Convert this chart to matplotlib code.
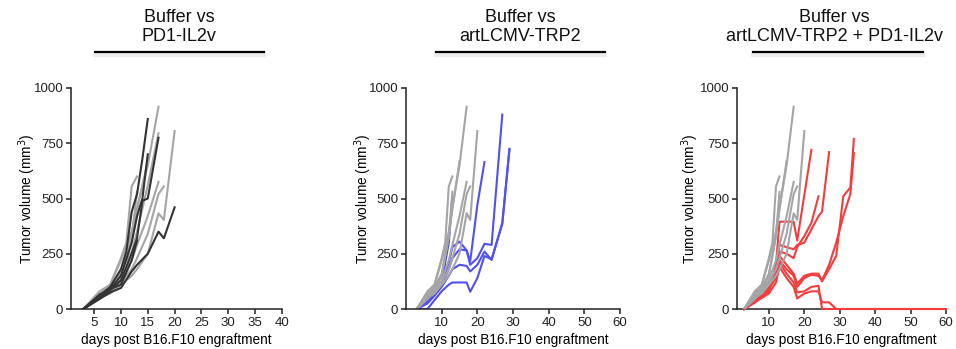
import matplotlib
matplotlib.use("Agg")
import matplotlib.pyplot as plt
from matplotlib.lines import Line2D

plt.rcParams['font.family'] = ['Liberation Sans', 'DejaVu Sans']

# Buffer (control) mice, shown in every panel: (days, volume mm3)
buffer_days = [
    [3, 6, 8, 10, 12, 13, 15, 17],
    [3, 6, 8, 10, 11, 12, 13, 15, 17, 18, 20],
    [3, 6, 8, 10, 12, 13, 15],
    [3, 6, 8, 10, 11, 12, 13],
    [3, 6, 8, 10, 12, 13],
    [3, 6, 8, 10, 12, 13, 15, 17],
    [3, 6, 8, 10, 12, 13, 15, 17, 18],
]
buffer_vals = [
    [0, 80, 110, 220, 350, 460, 650, 915],
    [0, 50, 70, 110, 130, 150, 180, 250, 433, 403, 805],
    [0, 60, 100, 160, 330, 450, 670],
    [0, 70, 110, 230, 300, 555, 600],
    [0, 60, 90, 150, 330, 530],
    [0, 55, 90, 130, 220, 290, 420, 575],
    [0, 45, 80, 120, 180, 230, 340, 520, 555],
]
# extra buffer mouse visible only in the first panel
buffer_p1_days = [3, 6, 8, 10, 12, 13, 15, 17]
buffer_p1_vals = [0, 60, 95, 170, 260, 350, 560, 795]

# PD1-IL2v
pd1_days = [
    [3, 6, 8, 10, 11, 12, 13, 14, 15],
    [3, 6, 8, 10, 12, 13, 14, 15],
    [3, 6, 8, 10, 12, 13, 14, 15, 17],
    [3, 6, 8, 10, 12, 13, 15, 17, 18, 20],
    [3, 6, 8, 10, 12, 13],
]
pd1_vals = [
    [0, 60, 100, 180, 260, 440, 520, 680, 860],
    [0, 55, 90, 150, 300, 420, 500, 700],
    [0, 50, 85, 130, 250, 320, 490, 500, 775],
    [0, 45, 75, 95, 170, 200, 250, 350, 320, 460],
    [0, 65, 90, 110, 220, 310],
]

# artLCMV-TRP2
lcmv_days = [
    [3, 6, 8, 10, 12, 13],
    [3, 6, 8, 10, 12, 13, 15, 17, 18, 20, 22],
    [3, 6, 8, 10, 12, 13, 15, 17, 18, 20, 22, 24, 27],
    [3, 6, 8, 10, 12, 13, 15, 17, 18, 20, 22, 24, 27, 29],
    [3, 6, 10, 12, 13, 15, 17, 18, 20, 22, 24, 27, 29],
]
lcmv_vals = [
    [0, 50, 80, 120, 300, 510],
    [0, 40, 75, 120, 210, 280, 305, 265, 215, 470, 665],
    [0, 30, 70, 110, 180, 230, 270, 265, 200, 230, 295, 290, 880],
    [0, 25, 60, 100, 150, 180, 200, 195, 170, 200, 260, 222, 390, 725],
    [0, 0, 80, 110, 120, 120, 120, 78, 140, 240, 225, 385, 720],
]

# artLCMV-TRP2 + PD1-IL2v
combo_days = [
    [3, 6, 8, 10, 12, 13, 15, 17, 18, 22],
    [3, 6, 8, 10, 12, 13, 15, 17, 18, 20, 22, 24, 25, 27],
    [3, 6, 8, 10, 12, 13, 15, 17, 18, 20, 22, 24],
    [3, 6, 8, 10, 12, 13, 15, 17, 18, 20, 22, 24, 25, 27, 29, 31, 33, 34],
    [3, 6, 8, 10, 12, 13, 15, 17, 18, 20, 22, 24, 25, 27, 29, 31, 33, 34],
    [3, 6, 8, 10, 12, 13, 15, 17, 18, 20, 22, 24, 25, 60],
    [3, 6, 8, 10, 12, 13, 15, 17, 18, 20, 22, 24, 25, 27, 29, 60],
]
combo_vals = [
    [0, 40, 60, 80, 200, 395, 395, 395, 310, 720],
    [0, 35, 60, 100, 180, 290, 280, 270, 290, 300, 360, 420, 440, 710],
    [0, 30, 55, 90, 160, 260, 250, 230, 280, 330, 390, 510],
    [0, 40, 70, 110, 170, 240, 200, 160, 115, 150, 160, 160, 125, 180, 240, 510, 550, 770],
    [0, 35, 60, 100, 160, 220, 180, 150, 100, 140, 155, 150, 130, 200, 300, 420, 520, 705],
    [0, 30, 60, 90, 140, 210, 160, 120, 75, 80, 100, 105, 0, 0],
    [0, 30, 50, 70, 120, 190, 140, 100, 48, 70, 80, 80, 30, 30, 0, 0],
]

titles = ["Buffer vs\nPD1-IL2v", "Buffer vs\nartLCMV-TRP2", "Buffer vs\nartLCMV-TRP2 + PD1-IL2v"]
xlims = [(0.7, 40), (0, 60), (1, 60)]
xticks = [[5, 10, 15, 20, 25, 30, 35, 40], [10, 20, 30, 40, 50, 60], [10, 20, 30, 40, 50, 60]]

GRAY = "#a5a5a8"
BLACK = "#333333"
BLUE = "#5050f5"
RED = "#f53c3c"
LW = 1.5

fig = plt.figure(figsize=(9.56, 3.49), dpi=100)
W, H = 956, 349
lefts = [71, 406, 737]
widths = [211, 214, 209]
ylabel_x = [27, 363, 690]
axes = []
for i in range(3):
    ax = fig.add_axes([lefts[i] / W, 1 - 309 / H, widths[i] / W, (309 - 88) / H])
    axes.append(ax)

# panel 1: buffer + PD1-IL2v (black on top)
ax = axes[0]
for d, v in zip(buffer_days, buffer_vals):
    ax.plot(d, v, color=GRAY, lw=LW)
ax.plot(buffer_p1_days, buffer_p1_vals, color=GRAY, lw=LW)
for d, v in zip(pd1_days, pd1_vals):
    ax.plot(d, v, color=BLACK, lw=LW)

# panel 2: artLCMV-TRP2 then buffer
ax = axes[1]
for d, v in zip(lcmv_days, lcmv_vals):
    ax.plot(d, v, color=BLUE, lw=LW)
for d, v in zip(buffer_days, buffer_vals):
    ax.plot(d, v, color=GRAY, lw=LW)

# panel 3: combo then buffer
ax = axes[2]
for d, v in zip(combo_days, combo_vals):
    ax.plot(d, v, color=RED, lw=LW, clip_on=False, zorder=3)
for d, v in zip(buffer_days, buffer_vals):
    ax.plot(d, v, color=GRAY, lw=LW, zorder=3)

underline = [(95, 264), (436, 605), (753, 923)]
centers = [179, 520, 834]
for i, ax in enumerate(axes):
    ax.set_xlim(*xlims[i])
    ax.set_ylim(0, 1000)
    ax.set_xticks(xticks[i])
    ax.set_yticks([0, 250, 500, 750, 1000])
    for s in ["top", "right"]:
        ax.spines[s].set_visible(False)
    for s in ["left", "bottom"]:
        ax.spines[s].set_linewidth(1.1)
        ax.spines[s].set_color("#222222")
    ax.tick_params(direction="out", length=3.5, width=1.1, labelsize=9.5,
                   colors="#222222", pad=2)
    ax.set_xlabel("days post B16.F10 engraftment", fontsize=9.8, va="center")
    ax.set_ylabel("Tumor volume (mm$^3$)", fontsize=9.8, va="center")
    ax.xaxis.set_label_coords(0.5, (309 - 340) / 221)
    ax.yaxis.set_label_coords((ylabel_x[i] - lefts[i]) / widths[i], 0.5)

    fig.text(centers[i] / W, 1 - 27 / H, titles[i], ha="center", va="center",
             fontsize=13, linespacing=1.2, color="#111111")
    x0, x1 = underline[i]
    fig.add_artist(Line2D([x0 / W, x1 / W], [1 - 55 / H, 1 - 55 / H],
                          color="#e6e6e6", lw=3, alpha=0.7))
    fig.add_artist(Line2D([x0 / W, x1 / W], [1 - 52 / H, 1 - 52 / H],
                          color="black", lw=1.6))

fig.savefig("out.png", dpi=100, facecolor="w")
